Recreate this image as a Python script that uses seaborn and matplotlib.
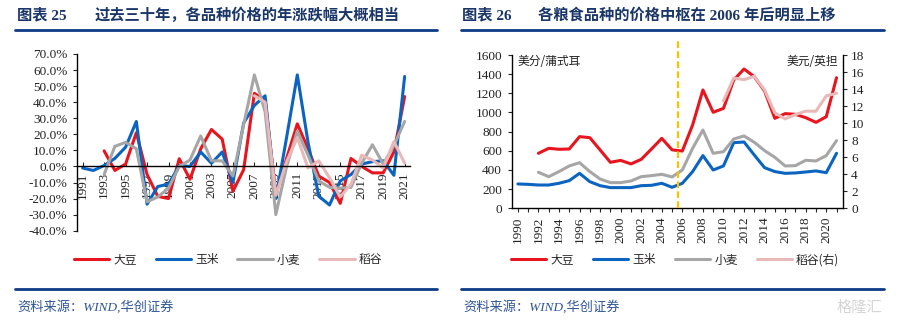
import numpy as np
import pandas as pd
import matplotlib
matplotlib.use("Agg")
import matplotlib.pyplot as plt
import seaborn as sns
from matplotlib.lines import Line2D

# ---------------- data ----------------
# Left chart: annual change (%) 1991-2021
years_chg = list(range(1991, 2022))
soy_chg = [np.nan, np.nan, 9.7, -2.5, 1.5, 21, -5, -18.6, -20, 4.8, -8, 11, 23, 17, -15.5, -2,
           45.5, 41, -17, 5, 26.5, 11, -6, -10, -23, 5, 0, -4, -4, 9, 43.5]
corn_chg = [-1, -2.5, 0.6, 5, 12, 28, -23.5, -12.5, -11, 0.5, 0, 9, 2, 9, -10, 27,
            38, 44, -20, 18, 57, 15, -18.5, -24, -9, -5, 1.5, 3, 3.5, -5.5, 56]
wheat_chg = [np.nan, np.nan, -5, 12.5, 15, 11, -22, -19, -13.5, 0, 4, 19, 3.5, 3.5, -6, 26,
             57, 34, -30, 0, 22, 7, -9, -13, -13.5, -13, 2, 13.5, 1.5, 13, 28]
rice_chg = [np.nan] * 16 + [44, 40, -18, 3, 18, -1, 3.5, -7, -19, -11, 7, 4, -1, 15.5, 2]

# Right chart: price level 1990-2021
years_px = list(range(1990, 2022))
soy_px = [np.nan, np.nan, 574, 626, 616, 619, 748, 737, 609, 480, 500, 463, 511, 619, 730, 610,
          598, 870, 1235, 1002, 1043, 1339, 1454, 1374, 1224, 939, 988, 981, 946, 897, 956, 1363]
corn_px = [254, 250, 243, 243, 261, 289, 365, 278, 236, 216, 216, 216, 236, 240, 261, 219,
           261, 383, 550, 400, 442, 685, 692, 556, 424, 383, 365, 369, 379, 390, 372, 574]
wheat_px = [np.nan, np.nan, 376, 330, 383, 442, 476, 383, 306, 268, 268, 285, 330, 341, 355, 327,
            400, 626, 817, 574, 591, 723, 755, 689, 602, 532, 442, 445, 501, 494, 550, 706]
rice_px = [np.nan] * 20 + [12.6, 15.3, 15.1, 15.5, 13.9, 11.2, 10.5, 11.0, 11.4, 11.4, 13.2, 13.5]

names = ["大豆", "玉米", "小麦", "稻谷"]
colors = {"大豆": "#E8141E", "玉米": "#0A64C0", "小麦": "#A6A6A6", "稻谷": "#E8B9B8"}

# ---------------- style ----------------
sns.set_theme(style="white")
plt.rcParams["font.family"] = ["Liberation Serif", "Noto Sans CJK SC", "DejaVu Sans"]
plt.rcParams["axes.unicode_minus"] = False

fig = plt.figure(figsize=(8.97, 3.21), dpi=100)
W, H = 897.0, 321.0

def fx(px):
    return px / W

def fy(py):
    return 1 - py / H

navy = "#1A3668"
rule_c = "#0D3B85"

# ---------------- left chart ----------------
ax1 = fig.add_axes([fx(77.3), fy(230.7), fx(410) - fx(77.3), fy(54) - fy(230.7)])
df_l = pd.DataFrame({"年份": years_chg, "大豆": soy_chg, "玉米": corn_chg,
                     "小麦": wheat_chg, "稻谷": rice_chg})
df_l = df_l.melt(id_vars="年份", var_name="品种", value_name="涨跌幅").dropna()
sns.lineplot(data=df_l, x="年份", y="涨跌幅", hue="品种", hue_order=names,
             palette=colors, ax=ax1, legend=False, linewidth=2.2)
for s in ["top", "right"]:
    ax1.spines[s].set_visible(False)
ax1.spines["bottom"].set_position(("data", 0))
for s in ["left", "bottom"]:
    ax1.spines[s].set_color("black")
    ax1.spines[s].set_linewidth(1.0)
ax1.set_axisbelow(True)
ax1.set_xlim(1990.5, 2021.5)
ax1.set_ylim(-40, 70)
yt = np.arange(-40, 71, 10)
ax1.set_yticks(yt)
ax1.set_yticklabels([f"{v:.1f}%" for v in yt])
xt = list(range(1991, 2022, 2))
ax1.set_xticks(xt)
ax1.set_xticklabels([str(v) for v in xt])
ax1.tick_params(axis="y", direction="out", length=3, width=0.8, pad=4, labelsize=9.5,
                left=True, labelcolor="#222222")
ax1.tick_params(axis="x", direction="in", length=3, width=0.8, pad=4, labelsize=9.5,
                bottom=True, labelcolor="#222222", labelrotation=90)
ax1.set_xlabel("")
ax1.set_ylabel("")
ax1.grid(False)

# ---------------- right chart ----------------
ax2 = fig.add_axes([fx(511.7), fy(208.3), fx(842.7) - fx(511.7), fy(55) - fy(208.3)])
df_r = pd.DataFrame({"年份": years_px, "大豆": soy_px, "玉米": corn_px, "小麦": wheat_px})
df_r = df_r.melt(id_vars="年份", var_name="品种", value_name="价格").dropna()
sns.lineplot(data=df_r, x="年份", y="价格", hue="品种", hue_order=names[:3],
             palette=colors, ax=ax2, legend=False, linewidth=2.2)
ax2r = ax2.twinx()
df_rice = pd.DataFrame({"年份": years_px, "价格": rice_px}).dropna()
sns.lineplot(data=df_rice, x="年份", y="价格", color=colors["稻谷"], ax=ax2r,
             legend=False, linewidth=2.2)
ax2.set_xlim(1989.4, 2021.6)
ax2.set_ylim(0, 1600)
ax2r.set_ylim(0, 18)
ax2.set_yticks(range(0, 1601, 200))
ax2r.set_yticks(range(0, 19, 2))
ax2.set_xticks(range(1990, 2022))
ax2.set_xticklabels([str(y) if y % 2 == 0 else "" for y in range(1990, 2022)], rotation=90)
for a in (ax2, ax2r):
    a.spines["top"].set_visible(False)
    a.set_xlabel("")
    a.set_ylabel("")
    a.grid(False)
    for s in ["left", "right", "bottom"]:
        a.spines[s].set_color("black")
        a.spines[s].set_linewidth(1.0)
ax2.spines["right"].set_visible(False)
ax2r.spines["left"].set_visible(False)
ax2r.spines["bottom"].set_visible(False)
ax2.tick_params(axis="y", direction="out", length=3, width=0.8, pad=4, labelsize=9.5,
                left=True, labelcolor="#222222")
ax2.tick_params(axis="x", direction="out", length=3, width=0.8, pad=3, labelsize=9.5,
                bottom=True, labelcolor="#222222")
ax2r.tick_params(axis="y", direction="out", length=3, width=0.8, pad=3, labelsize=9.5,
                 right=True, labelcolor="#222222")
ax2.vlines(2005.6, 0, 1760, colors="#FFC000", linestyles=(0, (3, 1.5)), linewidth=1.6,
           clip_on=False, zorder=5)
ax2.text(1990.0, 1530, "美分/蒲式耳", fontsize=8.5, color="#222222",
         family=["Noto Sans CJK SC"], ha="left", va="center")
ax2r.text(2021.2, 17.2, "美元/英担", fontsize=8.5, color="#222222",
          family=["Noto Sans CJK SC"], ha="right", va="center")

# ---------------- titles, rules, legends, source ----------------
tkw = dict(fontsize=11, fontweight="bold", color=navy, va="center")
fig.text(fx(17), fy(15), "图表 25", ha="left", **tkw)
fig.text(fx(95), fy(15), "过去三十年，各品种价格的年涨跌幅大概相当", ha="left", **tkw)
fig.text(fx(462), fy(15), "图表 26", ha="left", **tkw)
fig.text(fx(538), fy(15), "各粮食品种的价格中枢在 2006 年后明显上移", ha="left", **tkw)

for (x0, x1) in [(15, 437), (461, 884)]:
    fig.add_artist(Line2D([fx(x0), fx(x1)], [fy(30), fy(30)], color=rule_c, lw=2))
    fig.add_artist(Line2D([fx(x0), fx(x1)], [fy(289), fy(289)], color=rule_c, lw=2))

src_kw = dict(fontsize=9.5, color="#2F5597", style="italic", va="center", ha="left")
fig.text(fx(17), fy(307), "资料来源：WIND,华创证券", **src_kw)
fig.text(fx(463), fy(307), "资料来源：WIND,华创证券", **src_kw)
fig.text(fx(882), fy(307), "格隆汇", fontsize=11, color="#D5D5D5", ha="right", va="center",
         family=["Noto Sans CJK SC"])

handles = [Line2D([], [], color=colors[n], lw=2.2) for n in names]
leg_kw = dict(loc="center", ncol=4, frameon=False, handlelength=3.0, handletextpad=0.35,
              columnspacing=1.6, prop={"family": ["Noto Sans CJK SC"], "size": 8.5})
fig.legend(handles, names, bbox_to_anchor=(fx(228), fy(260)), **leg_kw)
fig.legend(handles, ["大豆", "玉米", "小麦", "稻谷(右)"], bbox_to_anchor=(fx(675), fy(260)),
           **leg_kw)

fig.savefig("out.png", dpi=100)
